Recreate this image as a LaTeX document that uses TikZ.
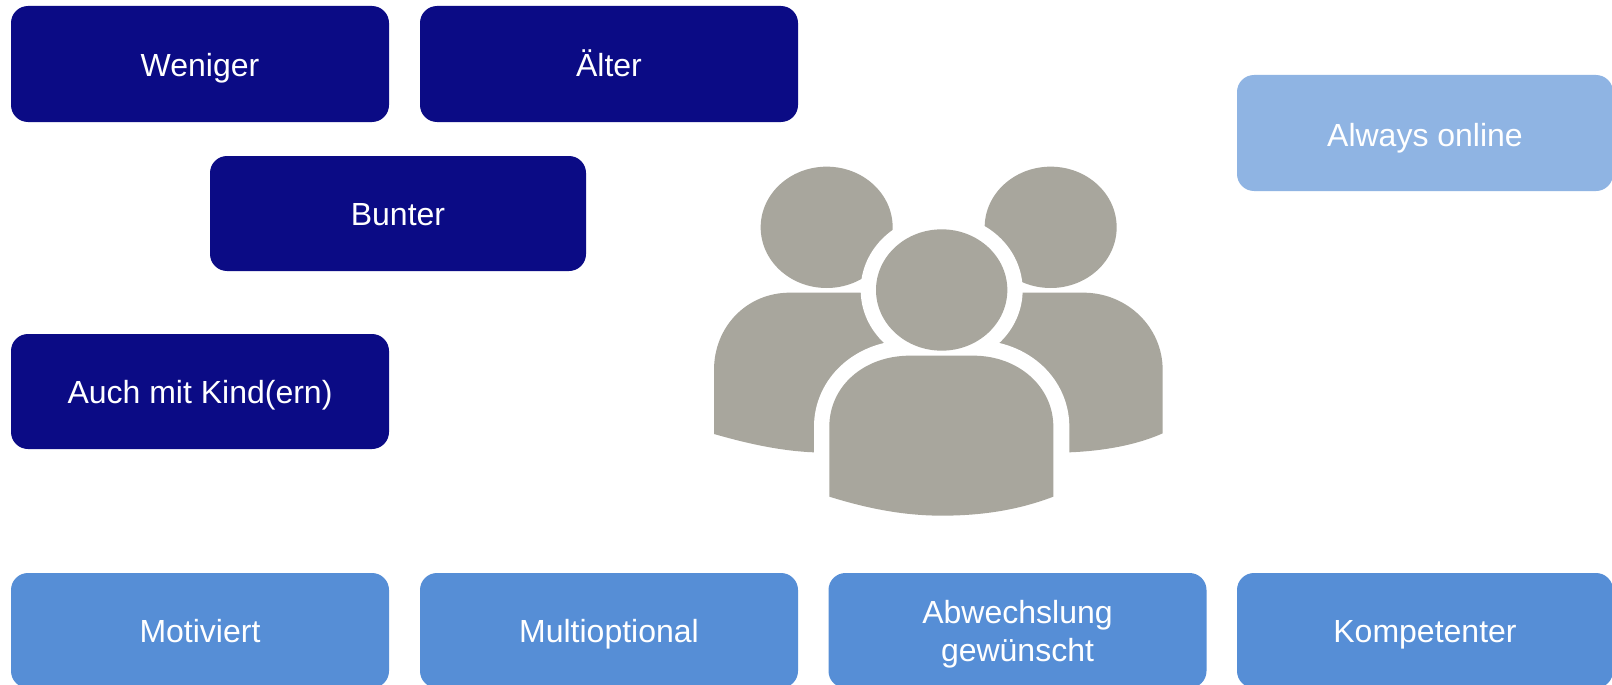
\documentclass[tikz,border=0pt]{standalone}
\usepackage{fontspec}
\setmainfont{Liberation Sans}
\definecolor{navy}{HTML}{0B0B85}
\definecolor{midblue}{HTML}{568ED6}
\definecolor{lightblue}{HTML}{8FB4E3}
\definecolor{icongray}{HTML}{A8A69D}
\tikzset{
  cardtext/.style={text=white,align=center,font=\fontsize{32}{38}\selectfont,inner sep=0pt},
  card/.style={cardtext,draw=none,rounded corners=17pt,minimum width=378pt,minimum height=116pt,
    text height=23pt,text depth=0pt},
  navycard/.style={card,fill=navy},
  midcard/.style={card,fill=midblue},
  lightcard/.style={card,fill=lightblue}
}
\begin{document}
\begin{tikzpicture}[x=1pt,y=-1pt]
\useasboundingbox (0,0) rectangle (1612,685);
\clip (0,0) rectangle (1612,685);
\fill[white] (0,0) rectangle (1612,685);
\node[navycard,text height=26pt] (weniger) at (200,64) {Weniger};
\node[navycard,text height=26pt] (aelter) at (609,64) {Älter};
\node[navycard,minimum width=376pt,minimum height=115pt] (bunter) at (398,213.5) {Bunter};
\node[navycard,minimum height=115pt] (kind) at (200,391.5) {Auch mit Kind(ern)};
\node[lightcard,minimum width=376pt,text height=27pt] (online) at (1425,133) {Always online};
\node[midcard,minimum height=115pt] (motiviert) at (200,630.5) {Motiviert};
\node[midcard,minimum height=115pt] (multi) at (609,630.5) {Multioptional};
\node[midcard,minimum height=115pt] (abw) at (1017.5,630.5) {};
\node[midcard,minimum width=376pt,minimum height=115pt] (komp) at (1425,630.5) {Kompetenter};
\node[cardtext] (abwtext) at (1017.5,634) {Abwechslung\\gewünscht};
\begin{scope}[shift={(690,150)},x=0.33333pt,y=-0.33333pt]
  % back persons
  \fill[icongray] (410,232) ellipse [x radius=198,y radius=182];
  \fill[icongray] (1082,232) ellipse [x radius=198,y radius=182];
  \fill[icongray] (72,852) -- (72,660) .. controls (72,530) and (170,428) .. (300,428)
     -- (640,428) -- (640,950) -- (372,907) .. controls (270,903) and (170,880) .. (72,852) -- cycle;
  \fill[icongray] (1418,850) -- (1418,660) .. controls (1418,530) and (1310,428) .. (1180,428)
     -- (860,428) -- (860,950) -- (1138,907) .. controls (1240,903) and (1340,885) .. (1418,850) -- cycle;
  % halo
  \fill[white] (755,420) ellipse [x radius=243,y radius=226];
  \fill[white] (372,1100) -- (372,830) .. controls (372,690) and (490,570) .. (660,570)
     -- (850,570) .. controls (1020,570) and (1138,690) .. (1138,830) -- (1138,1100) -- cycle;
  % front person
  \fill[icongray] (755,420) ellipse [x radius=197,y radius=182];
  \fill[icongray] (418,1040) -- (418,830) .. controls (418,710) and (520,617) .. (660,617)
     -- (850,617) .. controls (985,617) and (1090,710) .. (1090,830) -- (1090,1040)
     .. controls (980,1082) and (870,1097) .. (755,1097)
     .. controls (640,1097) and (530,1075) .. (418,1040) -- cycle;
\end{scope}
\end{tikzpicture}
\end{document}
